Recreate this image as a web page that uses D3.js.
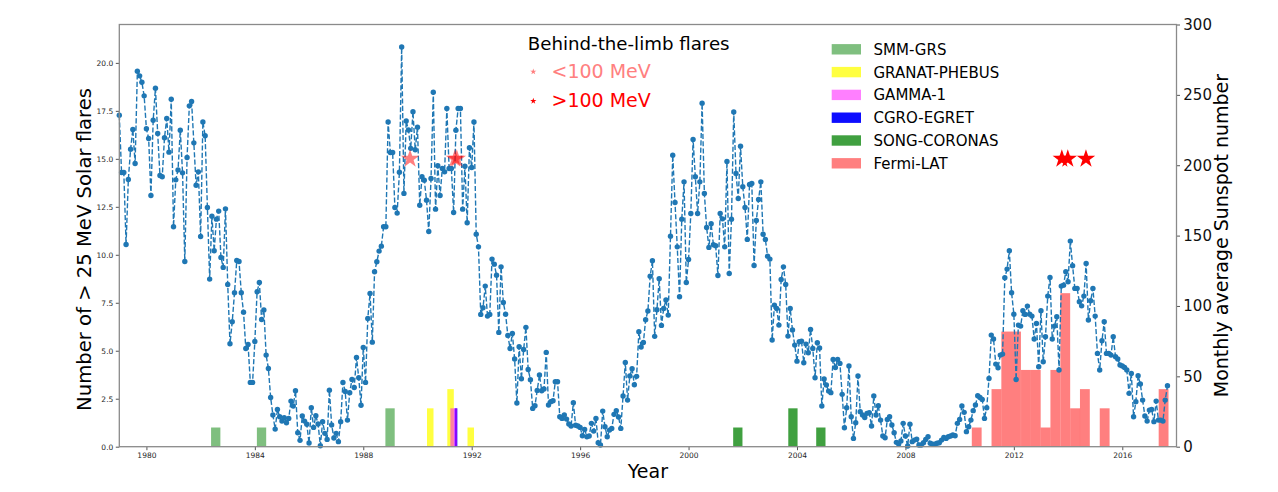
<!DOCTYPE html>
<html>
<head>
<meta charset="utf-8">
<script src="https://cdn.jsdelivr.net/npm/d3@7"></script>
<style>
  html, body { margin: 0; padding: 0; background: #fff; }
  svg { display: block; font-family: "DejaVu Sans", sans-serif; }
</style>
</head>
<body>
<svg id="chart" width="1278" height="492"></svg>
<script>
// ---------------- DATA ----------------
const sunspotStartYear = 1979; // first monthly value: Jan 1979
// Monthly average sunspot number (one row per year)
const sunspotNumber = [
  235.6, 194.8, 194.8, 143.7, 189.9, 211.4, 225.4, 201.2, 266.8, 263.5, 259, 249.3, // 1979
  225.9, 219, 178.5, 232, 254.7, 222.5, 192.7, 191.8, 219.5, 233.2, 209.3, 246.9,   // 1980
  156.3, 189.6, 196.7, 224.9, 194.6, 131.6, 205.5, 242.2, 245.3, 215.9, 185.8, 195.3, // 1981
  149.4, 230.8, 220.9, 170, 119.1, 163.8, 139.2, 161.7, 167.4, 134.5, 127.4, 169,   // 1982
  115.3, 73.2, 88.8, 109.4, 132.3, 131.6, 109.4, 95.6, 69.8, 72.7, 45.7, 45.7,      // 1983
  74.8, 110.1, 116.7, 90.4, 97.1, 65.1, 55.6, 35, 22.5, 12.5, 26.5, 21.3,           // 1984
  18.2, 20.6, 17, 20.1, 32.4, 28.9, 39.8, 9.9, 4.5, 21.8, 18.2, 15.9,               // 1985
  2.6, 27.7, 13.7, 22, 16.1, 0.7, 17.8, 9.5, 5.2, 40.2, 15.4, 6.2,                  // 1986
  9.5, 3.6, 17.8, 45.7, 39.3, 18.9, 38.4, 47.8, 42.1, 63.4, 49, 29.4,               // 1987
  70.5, 45.7, 91.1, 108.9, 74.3, 124.3, 131.4, 139, 142.5, 156.3, 156.3, 230.8,     // 1988
  209, 209, 170, 166, 195, 284, 180, 231.5, 225, 212, 238, 211,                     // 1989
  227, 171.6, 191.8, 189.4, 175.2, 152.9, 190.6, 251.9, 168.8, 199.6, 178.5, 197.7, // 1990
  195.3, 240.3, 197.7, 197.7, 166.4, 224.9, 240.3, 240.3, 168.8, 199.3, 159.1, 212.4, // 1991
  198.4, 230.8, 151, 142, 94, 98.7, 114.1, 92.8, 94, 133.3, 129.7, 121.9,           // 1992
  81.2, 127.8, 102.5, 94.2, 79.1, 69.8, 80.5, 62.3, 31, 71, 48.3, 69.1,             // 1993
  84.8, 54.9, 47.6, 27.2, 29.1, 40, 50.9, 39.8, 41, 67, 29.6, 32,                   // 1994
  32.7, 46.2, 46.2, 21.3, 20.1, 22.5, 19.6, 16.1, 14.7, 31.3, 15.2, 14.7,           // 1995
  13.7, 7.8, 12.3, 7.1, 7.6, 16.6, 11.1, 20.1, 2.8, 1.2, 25.3, 14.2,                // 1996
  7.1, 11.8, 13, 23, 25.6, 21.1, 13, 36, 59.9, 33.1, 50.2, 55.4,                    // 1997
  44, 50, 81.7, 70.8, 74, 90.2, 96.4, 121.2, 132.1, 78.4, 97.3, 119.4,              // 1998
  86.2, 98.2, 104.2, 93.5, 149.6, 207.1, 173.5, 142, 106.5, 161.7, 188.2, 116.7,    // 1999
  133, 165.7, 218.3, 191.8, 165.7, 188.2, 244.1, 179.9, 155.8, 141.6, 158.4, 143.5, // 2000
  142.8, 121.7, 165.7, 161.9, 142, 202.7, 123.1, 161.7, 237.9, 194.1, 176.4, 213.5, // 2001
  184.7, 170, 147.3, 186.3, 187, 128.8, 160.7, 175.7, 188.2, 151, 147.3, 135.4,     // 2002
  133.3, 75.8, 100.6, 98.2, 86.4, 118.8, 127.8, 115.3, 78.6, 98.2, 82.9, 72.2,      // 2003
  60.8, 74.6, 75, 59.7, 72.9, 66.8, 83.3, 69.8, 49, 73.9, 70.1, 28.9,               // 2004
  48.1, 43.8, 39.5, 38.4, 62, 56.3, 62, 59.2, 37.2, 13.5, 27.7, 57.3,               // 2005
  21.3, 5.9, 17, 50.2, 24.9, 22.5, 20.8, 23.7, 24.1, 14.7, 36, 22.5,                // 2006
  29.1, 18.9, 7.6, 6.4, 19.4, 21.3, 15.4, 9.9, 3.1, 1.9, 4, 16.6,                   // 2007
  7.6, 0.5, 15.9, 3.6, 4.7, 5.4, 1.2, 1.2, 2.8, 5.2, 7.1, 2.4,                      // 2008
  1.7, 1.7, 2.4, 2.8, 4.7, 6.6, 5.9, 7.1, 7.6, 8.3, 7.8, 16.6,                      // 2009
  19.4, 28.9, 24.4, 10.7, 14.2, 18.9, 25.6, 29.6, 36.2, 35, 33.6, 20.1,             // 2010
  27.7, 48.5, 79.3, 76.5, 58.7, 56.1, 65.1, 65.8, 120, 126.2, 139.2, 109.4,         // 2011
  94.2, 47.8, 86.4, 85.7, 96.6, 94, 99.9, 94.2, 92.8, 76.5, 87.6, 56.8,             // 2012
  96.6, 60.4, 78.1, 107, 120.3, 76.5, 85.7, 92.3, 54.5, 114.1, 114.8, 124.3,        // 2013
  117.2, 146.1, 128.6, 112.5, 112.5, 103, 100.1, 107, 130.2, 90, 103.7, 112.5,      // 2014
  92.8, 66.3, 54.5, 75.3, 88.8, 66.3, 66.3, 65.1, 78.1, 63.9, 62.3, 58,             // 2015
  57.3, 56.3, 54.5, 37.9, 52.1, 21.3, 32, 50.4, 44.5, 33.1, 21.8, 18.2,             // 2016
  26, 26.5, 17.8, 32.4, 18.9, 18.9, 18.2, 33.1, 43.3                                // 2017
];

// Number of > 25 MeV solar flares per instrument: [year, count]
const smmGrs       = [[1982.557, 1], [1984.247, 1], [1988.988, 2]];
const granatPhebus = [[1990.471, 2], [1991.22, 3], [1991.965, 1]];
const cgroEgret    = [[1991.42, 2]];
const gamma1       = [[1991.336, 2]];
const songCoronas  = [[2001.817, 1], [2003.85, 2], [2004.88, 1]];
const fermiLat     = [[2010.63, 1], [2011.358, 3], [2011.72, 6], [2012.08, 6], [2012.446, 4],
                      [2012.808, 4], [2013.17, 1], [2013.53, 4], [2013.896, 8], [2014.26, 2],
                      [2014.62, 3], [2015.35, 2], [2017.524, 3]];

// Behind-the-limb flares (plotted at 15 on the flare axis): years
const btlLow  = [1989.726, 1991.38, 1991.45];   // <100 MeV
const btlHigh = [2013.77, 2013.99, 2014.66];    // >100 MeV
const btlLevel = 15;

const xTicks = [1980, 1984, 1988, 1992, 1996, 2000, 2004, 2008, 2012, 2016];
const leftTicks = [0, 2.5, 5, 7.5, 10, 12.5, 15, 17.5, 20];
const rightTicks = [0, 50, 100, 150, 200, 250, 300];

const legendNames = ["SMM-GRS", "GRANAT-PHEBUS", "GAMMA-1", "CGRO-EGRET", "SONG-CORONAS", "Fermi-LAT"];

// ---------------- STYLE / LAYOUT ----------------
const L = 119.3, R = 1176.5, T = 24.5, B = 446.7;
const barStyle = {
  "SMM-GRS":       { color: "green",   alpha: 0.5,  width: 0.343, data: smmGrs },
  "GRANAT-PHEBUS": { color: "yellow",  alpha: 0.75, width: 0.24,  data: granatPhebus },
  "CGRO-EGRET":    { color: "blue",    alpha: 0.95, width: 0.1,   data: cgroEgret },
  "GAMMA-1":       { color: "magenta", alpha: 0.5,  width: 0.247, data: gamma1 },
  "SONG-CORONAS":  { color: "green",   alpha: 0.75, width: 0.343, data: songCoronas },
  "Fermi-LAT":     { color: "red",     alpha: 0.5,  width: 0.3627, data: fermiLat }
};
const drawOrder = ["SMM-GRS", "GRANAT-PHEBUS", "CGRO-EGRET", "GAMMA-1", "SONG-CORONAS", "Fermi-LAT"];

const svg = d3.select("#chart");
const x = d3.scaleLinear().domain([1979, 2018]).range([L, R]);
const yL = d3.scaleLinear().domain([0, 22]).range([B, T]);
const yR = d3.scaleLinear().domain([0, 300]).range([B, T]);

// ---------------- BARS ----------------
drawOrder.forEach(name => {
  const s = barStyle[name];
  svg.append("g").selectAll("rect").data(s.data).join("rect")
    .attr("x", d => x(d[0] - s.width / 2))
    .attr("width", d => x(d[0] + s.width / 2) - x(d[0] - s.width / 2))
    .attr("y", d => yL(d[1]))
    .attr("height", d => yL(0) - yL(d[1]))
    .attr("fill", s.color)
    .attr("fill-opacity", s.alpha);
});

// ---------------- SUNSPOT LINE ----------------
const pts = sunspotNumber.map((v, i) => [sunspotStartYear + i / 12, v]);
const line = d3.line().x(d => x(d[0])).y(d => yR(d[1]));
svg.append("path").datum(pts)
  .attr("d", line)
  .attr("fill", "none")
  .attr("stroke", "#1f77b4")
  .attr("stroke-width", 1.4)
  .attr("stroke-dasharray", "5.1,2.2");
svg.append("g").selectAll("circle").data(pts).join("circle")
  .attr("cx", d => x(d[0])).attr("cy", d => yR(d[1]))
  .attr("r", 2.7).attr("fill", "#1f77b4");

// ---------------- STARS ----------------
const starR = 9.7;
const starSym = d3.symbol().type(d3.symbolStar).size(starR * starR / 0.8908130915292852);
svg.append("g").selectAll("path").data(btlLow).join("path")
  .attr("d", starSym)
  .attr("transform", d => `translate(${x(d)},${yL(btlLevel)})`)
  .attr("fill", "red").attr("fill-opacity", 0.5);
svg.append("g").selectAll("path").data(btlHigh).join("path")
  .attr("d", starSym)
  .attr("transform", d => `translate(${x(d)},${yL(btlLevel)})`)
  .attr("fill", "red");

// ---------------- AXES ----------------
const spineColor = "#8a8a8a";
const tickColor = "#262626";

const gx = svg.append("g").attr("transform", `translate(0,${B})`)
  .call(d3.axisBottom(x).tickValues(xTicks).tickFormat(d3.format("d")).tickSize(3.5).tickPadding(2.5));
gx.selectAll("text").attr("font-size", 7.5).attr("fill", tickColor).attr("font-family", "DejaVu Sans");

const gl = svg.append("g").attr("transform", `translate(${L},0)`)
  .call(d3.axisLeft(yL).tickValues(leftTicks).tickFormat(d3.format(".1f")).tickSize(3.5).tickPadding(2.5));
gl.selectAll("text").attr("font-size", 7.5).attr("fill", tickColor).attr("font-family", "DejaVu Sans");

const gr = svg.append("g").attr("transform", `translate(${R},0)`)
  .call(d3.axisRight(yR).tickValues(rightTicks).tickFormat(d3.format("d")).tickSize(3.5).tickPadding(3.3));
gr.selectAll("text").attr("font-size", 15).attr("fill", "#111").attr("font-family", "DejaVu Sans");

[gx, gl, gr].forEach(g => {
  g.select(".domain").remove();
  g.selectAll(".tick line").attr("stroke", "#555").attr("stroke-width", 1);
});

// spines (frame)
svg.append("rect").attr("x", L).attr("y", T).attr("width", R - L).attr("height", B - T)
  .attr("fill", "none").attr("stroke", spineColor).attr("stroke-width", 1.3);

// axis labels
svg.append("text").attr("x", (L + R) / 2).attr("y", 477.5).attr("text-anchor", "middle")
  .attr("font-size", 19).attr("fill", "#000").text("Year");
svg.append("text").attr("transform", `translate(90.5,249.5) rotate(-90)`)
  .attr("text-anchor", "middle").attr("font-size", 19.6).attr("fill", "#000")
  .text("Number of > 25 MeV Solar flares");
svg.append("text").attr("transform", `translate(1227.7,${(T + B) / 2}) rotate(-90)`)
  .attr("text-anchor", "middle").attr("font-size", 19).attr("fill", "#000")
  .text("Monthly average Sunspot number");

// ---------------- BEHIND-THE-LIMB LEGEND ----------------
svg.append("text").attr("x", 527.8).attr("y", 50).attr("font-size", 18.2).attr("fill", "#000")
  .text("Behind-the-limb flares");
const smallStar = d3.symbol().type(d3.symbolStar).size(3.3 * 3.3 / 0.8908130915292852);
svg.append("path").attr("d", smallStar).attr("transform", "translate(533.3,71.7)")
  .attr("fill", "red").attr("fill-opacity", 0.5);
svg.append("text").attr("x", 551.5).attr("y", 78.3).attr("font-size", 19).attr("fill", "#ff8080")
  .text("<100 MeV");
svg.append("path").attr("d", smallStar).attr("transform", "translate(533.3,101)")
  .attr("fill", "red");
svg.append("text").attr("x", 551.5).attr("y", 106.7).attr("font-size", 19).attr("fill", "#ff0000")
  .text(">100 MeV");

// ---------------- INSTRUMENT LEGEND ----------------
const legRowY = d3.scaleLinear().domain([0, legendNames.length - 1]).range([49.3, 163.3]);
const leg = svg.append("g");
legendNames.forEach((name, i) => {
  const s = barStyle[name];
  const cy = legRowY(i);
  leg.append("rect").attr("x", 831.7).attr("y", cy - 5.2).attr("width", 29.3).attr("height", 10.4)
    .attr("fill", s.color).attr("fill-opacity", s.alpha);
  leg.append("text").attr("x", 873.5).attr("y", cy + 5.5).attr("font-size", 15).attr("fill", "#000")
    .text(name);
});
</script>
</body>
</html>
